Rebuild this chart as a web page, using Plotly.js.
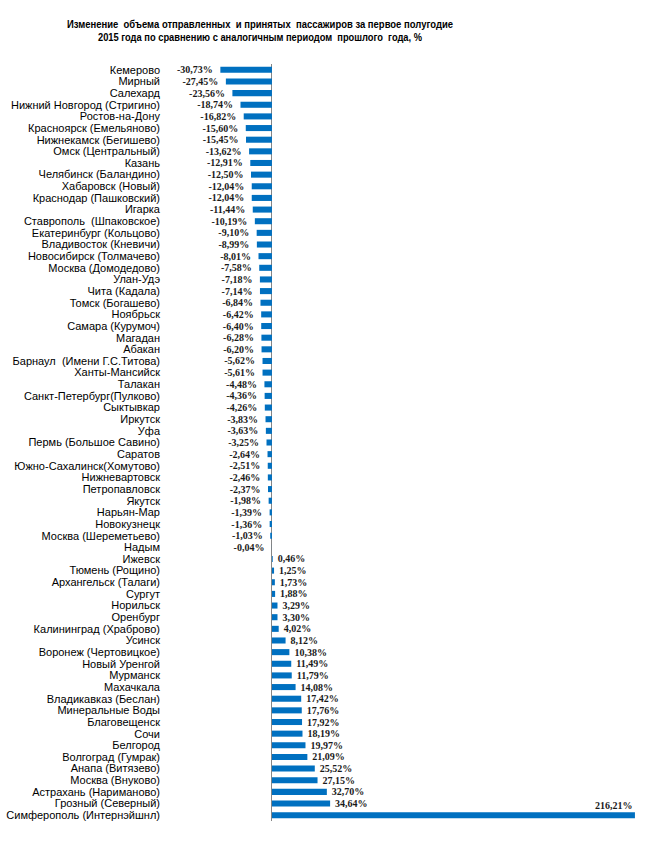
<!DOCTYPE html>
<html>
<head>
<meta charset="utf-8">
<script src="https://cdn.plot.ly/plotly-3.0.1.min.js"></script>
<style>html,body{margin:0;padding:0;background:#fff;}#chart{width:650px;height:850px;}</style>
</head>
<body>
<div id="chart"></div>
<script>
var airports = [
  "Кемерово", "Мирный", "Салехард", "Нижний Новгород (Стригино)", "Ростов-на-Дону",
  "Красноярск (Емельяново)", "Нижнекамск (Бегишево)", "Омск (Центральный)", "Казань",
  "Челябинск (Баландино)", "Хабаровск (Новый)", "Краснодар (Пашковский)", "Игарка",
  "Ставрополь  (Шпаковское)", "Екатеринбург (Кольцово)", "Владивосток (Кневичи)",
  "Новосибирск (Толмачево)", "Москва (Домодедово)", "Улан-Удэ", "Чита (Кадала)",
  "Томск (Богашево)", "Ноябрьск", "Самара (Курумоч)", "Магадан", "Абакан",
  "Барнаул  (Имени Г.С.Титова)", "Ханты-Мансийск", "Талакан", "Санкт-Петербург(Пулково)",
  "Сыктывкар", "Иркутск", "Уфа", "Пермь (Большое Савино)", "Саратов",
  "Южно-Сахалинск(Хомутово)", "Нижневартовск", "Петропавловск", "Якутск", "Нарьян-Мар",
  "Новокузнецк", "Москва (Шереметьево)", "Надым", "Ижевск", "Тюмень (Рощино)",
  "Архангельск (Талаги)", "Сургут", "Норильск", "Оренбург", "Калининград (Храброво)",
  "Усинск", "Воронеж (Чертовицкое)", "Новый Уренгой", "Мурманск", "Махачкала",
  "Владикавказ (Беслан)", "Минеральные Воды", "Благовещенск", "Сочи", "Белгород",
  "Волгоград (Гумрак)", "Анапа (Витязево)", "Москва (Внуково)", "Астрахань (Нариманово)",
  "Грозный (Северный)", "Симферополь (Интернэйшнл)"
];
var changePct = [
  -30.73, -27.45, -23.56, -18.74, -16.82,
  -15.60, -15.45, -13.62, -12.91,
  -12.50, -12.04, -12.04, -11.44,
  -10.19, -9.10, -8.99,
  -8.01, -7.58, -7.18, -7.14,
  -6.84, -6.42, -6.40, -6.28, -6.20,
  -5.62, -5.61, -4.48, -4.36,
  -4.26, -3.83, -3.63, -3.25, -2.64,
  -2.51, -2.46, -2.37, -1.98, -1.39,
  -1.36, -1.03, -0.04, 0.46, 1.25,
  1.73, 1.88, 3.29, 3.30, 4.02,
  8.12, 10.38, 11.49, 11.79, 14.08,
  17.42, 17.76, 17.92, 18.19, 19.97,
  21.09, 25.52, 27.15, 32.70,
  34.64, 216.21
];
var titleLines = [
  "Изменение  объема отправленных  и принятых  пассажиров за первое полугодие",
  "2015 года по сравнению с аналогичным периодом  прошлого  года, %"
];

var labels = changePct.map(function(v){ return v.toFixed(2).replace('.', ',') + '%'; });
var lastIdx = changePct.length - 1;
var barText = labels.map(function(t, i){
  return changePct[i] < 0 ? t + '\u00a0\u2009' : '\u2009' + t;
});
var textPos = changePct.map(function(v, i){ return i === lastIdx ? 'none' : 'outside'; });

var valueFont = {family: 'Liberation Serif, Times New Roman, serif', size: 10, color: '#1a1a1a', weight: 'bold'};

var trace = {
  type: 'bar',
  orientation: 'h',
  x: changePct,
  y: airports,
  marker: {color: '#0070C0'},
  text: barText,
  textposition: textPos,
  textfont: valueFont,
  constraintext: 'none',
  cliponaxis: false,
  hoverinfo: 'none'
};

var layout = {
  width: 650,
  height: 850,
  paper_bgcolor: '#ffffff',
  plot_bgcolor: '#ffffff',
  margin: {l: 164, r: 5, t: 64, b: 29},
  showlegend: false,
  bargap: 0.48,
  title: {
    text: titleLines.join('<br>'),
    font: {family: 'Liberation Sans, Arial, sans-serif', size: 10, color: '#000', weight: 'bold'},
    x: 0.4, xref: 'container', xanchor: 'center',
    y: 0.967, yref: 'container', yanchor: 'top'
  },
  xaxis: {
    range: [-64.3, 222.2],
    showgrid: false,
    showticklabels: false,
    ticks: '',
    zeroline: true,
    zerolinecolor: '#868686',
    zerolinewidth: 1,
    showline: false,
    fixedrange: true
  },
  yaxis: {
    type: 'category',
    range: [airports.length - 0.5, -0.5],
    tickmode: 'array',
    tickvals: airports,
    ticktext: airports,
    ticklabelstandoff: 3,
    showgrid: false,
    ticks: '',
    showline: false,
    zeroline: false,
    tickfont: {family: 'Liberation Sans, Arial, sans-serif', size: 11, color: '#000'},
    fixedrange: true
  },
  annotations: [{
    x: changePct[lastIdx],
    y: airports[lastIdx],
    xref: 'x', yref: 'y',
    text: labels[lastIdx],
    showarrow: false,
    xanchor: 'right',
    yanchor: 'bottom',
    yshift: 2,
    font: valueFont
  }]
};

Plotly.newPlot('chart', [trace], layout, {displayModeBar: false, staticPlot: true}).then(function(gd){
  // the reference title uses a narrow face; squeeze each line to its width
  var widths = [386, 324];
  var lines = gd.querySelectorAll('.gtitle tspan.line');
  lines.forEach(function(t, i){
    if (widths[i]) {
      t.setAttribute('textLength', widths[i]);
      t.setAttribute('lengthAdjust', 'spacingAndGlyphs');
    }
  });
});
</script>
</body>
</html>
